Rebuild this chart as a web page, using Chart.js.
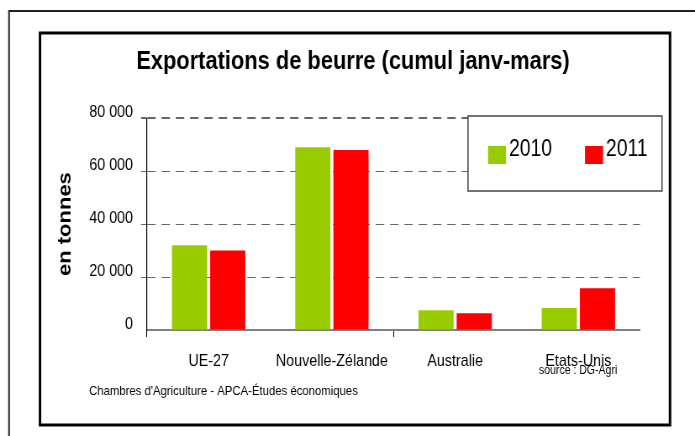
<!DOCTYPE html>
<html>
<head>
<meta charset="utf-8">
<script src="https://cdn.jsdelivr.net/npm/chart.js@4"></script>
<style>
  html, body { margin: 0; padding: 0; background: #fff; }
  #chart { display: block; }
</style>
</head>
<body>
<!-- le graphique d'origine est compressé en largeur : on dessine sur 827px puis on affiche sur 695px -->
<canvas id="chart" width="827" height="436" style="width:695px;height:436px"></canvas>
<script>
const categories  = ['UE-27', 'Nouvelle-Zélande', 'Australie', 'Etats-Unis']
const exports2010 = [32000, 69000, 7500, 8300]
const exports2011 = [30000, 68000, 6300, 15800]
const yTicks      = [0, 20000, 40000, 60000, 80000]
const yTickLabels = ['0', '20 000', '40 000', '60 000', '80 000']

const FONT = "'Liberation Sans', Arial, sans-serif"
const SQ   = 695 / 827          // compression horizontale
const X    = px => px / SQ      // px écran -> px canvas

const decor = {
    id: 'decor',
    beforeDraw(chart) {
        const c = chart.ctx
        c.save()
        c.fillStyle = '#fff'
        c.fillRect(0, 0, chart.width, chart.height)
        c.strokeStyle = '#222'
        c.lineWidth = 2
        c.beginPath()
        c.moveTo(X(9), chart.height)
        c.lineTo(X(9), 11)
        c.lineTo(chart.width, 11)
        c.stroke()
        c.strokeStyle = '#000'
        c.lineWidth = 3
        c.strokeRect(X(40), 33, X(630), 392)
        c.restore()
    },
    afterDraw(chart) {
        const c = chart.ctx
        c.save()
        c.fillStyle = '#fff'
        c.fillRect(X(468), 116, X(194), 75)
        c.strokeStyle = '#444'
        c.lineWidth = 1.5
        c.strokeRect(X(468), 116, X(194), 75)

        c.font = `23px ${FONT}`
        c.textBaseline = 'middle'
        c.textAlign = 'left'
        chart.data.datasets.forEach((ds, i) => {
            const x = X(488 + i * 97)
            c.fillStyle = ds.backgroundColor
            c.fillRect(x, 146, X(18), 18)
            c.fillStyle = '#000'
            c.fillText(ds.label, x + X(21), 150)
        })

        c.font = `12.5px ${FONT}`
        c.fillText('source : DG-Agri', X(539), 371)
        c.font = `13.5px ${FONT}`
        c.fillText("Chambres d'Agriculture - APCA-Études économiques", X(89), 391)
        c.restore()
    }
}

new Chart(document.getElementById('chart'), {
    type: 'bar',
    data: {
        labels: categories,
        datasets: [
            { label: '2010', data: exports2010, backgroundColor: '#99cc00' },
            { label: '2011', data: exports2011, backgroundColor: '#ff0000' }
        ]
    },
    options: {
        responsive: false,
        animation: false,
        categoryPercentage: 0.62,
        barPercentage: 0.92,
        layout: { padding: { left: X(66), right: 827 - X(640), top: 0, bottom: 0 } },
        plugins: {
            legend: { display: false },
            tooltip: { enabled: false },
            title: {
                display: true,
                text: 'Exportations de beurre (cumul janv-mars)',
                color: '#000',
                font: { family: FONT, size: 26, weight: 'bold' },
                padding: { top: 46, bottom: 41 }
            }
        },
        scales: {
            x: {
                grid: {
                    drawOnChartArea: false,
                    offset: true,
                    tickLength: 7,
                    tickColor: ctx => ctx.index % 2 === 0 ? '#000' : 'rgba(0,0,0,0)'
                },
                border: { color: '#808080', width: 2 },
                ticks: {
                    color: '#000',
                    font: { family: FONT, size: 17 },
                    padding: 14,
                    maxRotation: 0,
                    autoSkip: false
                },
                afterFit: s => { s.height = 106 }
            },
            y: {
                min: 0,
                max: 80000,
                afterBuildTicks: s => { s.ticks = yTicks.map(v => ({ value: v })) },
                grid: {
                    color: ctx => ctx.index === 0 ? 'rgba(0,0,0,0)' : '#666',
                    lineWidth: ctx => ctx.index === 4 ? 2 : 1,
                    tickLength: X(6)
                },
                border: { color: '#000', width: 1.2, dash: [10, 7] },
                ticks: {
                    color: '#000',
                    font: { family: FONT, size: 17 },
                    padding: X(8),
                    labelOffset: -6,
                    callback: (v, i) => yTickLabels[i]
                },
                title: {
                    display: true,
                    text: 'en tonnes',
                    color: '#000',
                    font: { family: FONT, size: 22, weight: 'bold' },
                    padding: { top: X(65.5) - X(66) - 13.2, bottom: 0 }
                },
                afterFit: s => { s.width = X(147) - X(66) }
            }
        }
    },
    plugins: [decor]
})
</script>
</body>
</html>
